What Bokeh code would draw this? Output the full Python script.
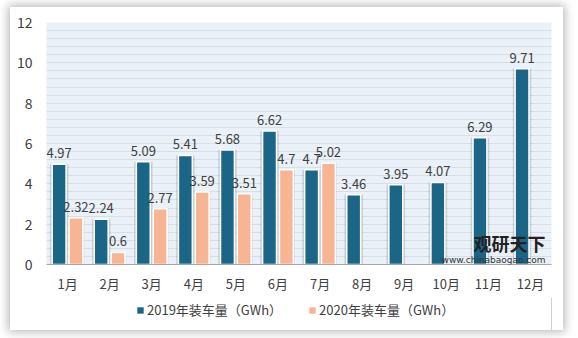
from bokeh.plotting import figure
from bokeh.layouts import column
from bokeh.models import (ColumnDataSource, FactorRange, SingleIntervalTicker, FixedTicker,
                          Legend, LegendItem, Label)
from bokeh.transform import dodge
from bokeh.core.properties import value
from bokeh.embed import file_html
from bokeh.resources import INLINE

months = ["1月", "2月", "3月", "4月", "5月", "6月", "7月", "8月", "9月", "10月", "11月", "12月"]
v2019 = [4.97, 2.24, 5.09, 5.41, 5.68, 6.62, 4.7, 3.46, 3.95, 4.07, 6.29, 9.71]
months2020 = ["1月", "2月", "3月", "4月", "5月", "6月", "7月"]
v2020 = [2.32, 0.6, 2.77, 3.59, 3.51, 4.7, 5.02]
name2019 = "2019年装车量（GWh）"
name2020 = "2020年装车量（GWh）"
y_ticks = [0, 2, 4, 6, 8, 10, 12]

FONT = "Noto Sans CJK SC"
C19 = "#1b6587"
C20 = "#f8b593"

s19 = ColumnDataSource(dict(m=months, v=v2019, t=[f"{x:g}" for x in v2019]))
s20 = ColumnDataSource(dict(m=months2020, v=v2020, t=[f"{x:g}" for x in v2020]))

p = figure(x_range=FactorRange(*months, range_padding=0), y_range=(0, 12),
           width=553, height=290, output_backend="svg", toolbar_location=None,
           min_border_left=36, min_border_right=12, min_border_top=15, min_border_bottom=33)
p.background_fill_color = "#eaf1f8"
p.border_fill_color = "white"
p.outline_line_color = None

# shadows
p.vbar(x=dodge("m", -0.2, range=p.x_range), top="v", width=0.44, source=s19,
       fill_color="#8a8f94", fill_alpha=0.35, line_color=None)
p.vbar(x=dodge("m", 0.2, range=p.x_range), top="v", width=0.40, source=s20,
       fill_color="#8a8f94", fill_alpha=0.18, line_color=None)

p.vbar(x=dodge("m", -0.2, range=p.x_range), top="v", width=0.33, source=s19,
       fill_color=C19, line_color="white", line_width=1.5)
p.vbar(x=dodge("m", 0.2, range=p.x_range), top="v", width=0.33, source=s20,
       fill_color=C20, line_color="white", line_width=1.5)

p.text(x=dodge("m", -0.2, range=p.x_range), y="v", text="t", source=s19,
       text_align="center", text_baseline="bottom", y_offset=-6,
       text_font=value(FONT), text_font_size="13px", text_color="#404040")
p.text(x=dodge("m", 0.2, range=p.x_range), y="v", text="t", source=s20,
       text_align="center", text_baseline="bottom", y_offset=-6,
       text_font=value(FONT), text_font_size="13px", text_color="#404040")

p.xgrid.grid_line_color = None
p.ygrid.ticker = SingleIntervalTicker(interval=0.4, num_minor_ticks=0)
p.ygrid.grid_line_color = "#d8dee4"
p.ygrid.grid_line_width = 1

p.yaxis.ticker = FixedTicker(ticks=y_ticks)
p.yaxis.axis_line_color = None
p.yaxis.major_tick_line_color = None
p.yaxis.minor_tick_line_color = None
p.yaxis.major_label_text_font = FONT
p.yaxis.major_label_text_font_size = "14px"
p.yaxis.major_label_text_color = "#404040"
p.yaxis.major_label_standoff = 8

p.xaxis.axis_line_color = "#a6a6a6"
p.xaxis.major_tick_line_color = None
p.xaxis.minor_tick_line_color = None
p.xaxis.major_label_text_font = FONT
p.xaxis.major_label_text_font_size = "13px"
p.xaxis.major_label_text_color = "#404040"
p.xaxis.major_label_standoff = 3

p.add_layout(Label(x=499, y=9, x_units="screen", y_units="screen", text="观研天下",
                   text_font=FONT, text_font_size="18px", text_font_style="bold",
                   text_color="#222222", text_align="right"))
p.add_layout(Label(x=499, y=0, x_units="screen", y_units="screen", text="www.chinabaogao.com",
                   text_font="DejaVu Sans", text_font_size="9px",
                   text_color="#333333", text_align="right"))

# legend strip
lg = figure(width=553, height=33, x_range=(0, 1), y_range=(0, 1), output_backend="svg",
            toolbar_location=None, min_border=0, x_axis_location=None, y_axis_location=None)
lg.grid.visible = False
lg.outline_line_color = None
lg.background_fill_color = "white"
lg.border_fill_color = "white"
d19 = lg.vbar(x=[5], top=[5], width=0.1, fill_color=C19, line_color=None)
d20 = lg.vbar(x=[5], top=[5], width=0.1, fill_color=C20, line_color=None)
legend = Legend(items=[LegendItem(label=name2019, renderers=[d19]),
                       LegendItem(label=name2020, renderers=[d20])],
                orientation="horizontal", location=(90, 11))
legend.label_text_font = FONT
legend.label_text_font_size = "13px"
legend.label_text_color = "#404040"
legend.glyph_width = 8
legend.glyph_height = 8
legend.spacing = 26
legend.label_standoff = 3
legend.border_line_color = None
legend.background_fill_alpha = 0
legend.padding = 4
legend.margin = 0
lg.add_layout(legend, "center")

layout = column(p, lg, margin=(7, 15, 8, 10), spacing=0,
                styles={"box-shadow": "0px 0px 9px 2px rgba(0,0,0,0.28)",
                        "background-color": "white"})

open("out.html", "w").write(file_html(layout, INLINE))
